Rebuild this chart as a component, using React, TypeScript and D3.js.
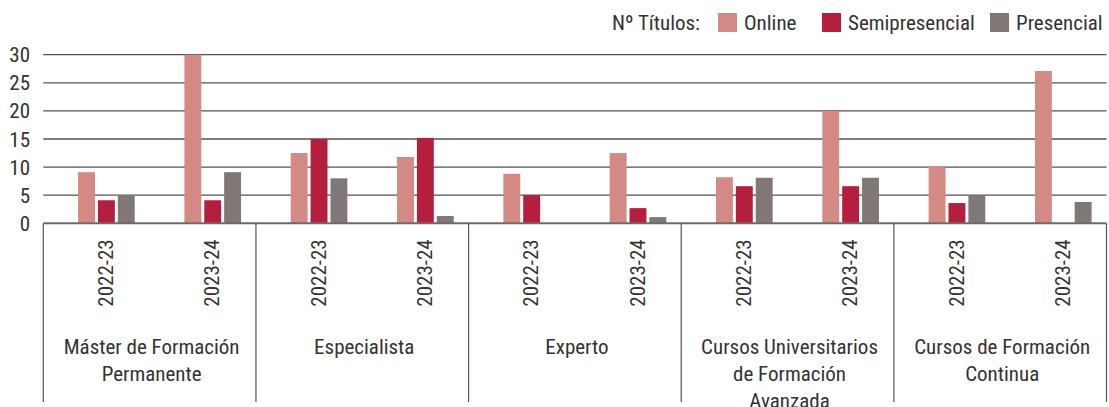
import React from "react";
import * as d3 from "d3";

const categories = [
  "Máster de Formación Permanente",
  "Especialista",
  "Experto",
  "Cursos Universitarios de Formación Avanzada",
  "Cursos de Formación Continua",
];
const years = ["2022-23", "2023-24"];
const seriesNames = ["Online", "Semipresencial", "Presencial"];
const seriesColors = ["#d48a84", "#b51e3d", "#7f7877"];
const legendTitle = "Nº Títulos:";

// one entry per category, [2022-23, 2023-24]
const online = [[9.1, 30], [12.5, 11.8], [8.8, 12.5], [8.2, 20], [10.2, 27.1]];
const semipresencial = [[4.1, 4.1], [15, 15.2], [5, 2.7], [6.6, 6.6], [3.6, 0]];
const presencial = [[5, 9.1], [8, 1.3], [0, 1.1], [8.1, 8.1], [5, 3.8]];

const yTicks = [0, 5, 10, 15, 20, 25, 30];

const FONT = "Roboto, 'Roboto Condensed', sans-serif";

function App() {
  const width = 1109;
  const height = 407;
  const left = 43.3;
  const right = 1106.5;
  const top = 54.7;
  const bottom = 223.3;

  const seriesData = [online, semipresencial, presencial];

  const xGroup = d3.scaleBand().domain(categories).range([left, right]);
  const xYear = d3.scaleBand().domain(years).range([0, xGroup.bandwidth()]);
  // first slot is the empty "Nº Títulos" entry of the legend
  const slots = ["", ...seriesNames];
  const xSeries = d3
    .scaleBand()
    .domain(slots)
    .range([0, xYear.bandwidth()])
    .paddingInner(0.15)
    .paddingOuter(0.75);
  const y = d3.scaleLinear().domain([0, 30]).range([bottom, top]);

  const bars = [];
  categories.forEach((c, ci) => {
    years.forEach((yr, yi) => {
      seriesNames.forEach((s, si) => {
        const v = seriesData[si][ci][yi];
        if (!v) return;
        const x0 = xGroup(c) + xYear(yr) + xSeries(s);
        bars.push(
          <rect
            key={c + yr + s}
            x={x0}
            y={y(v)}
            width={xSeries.bandwidth()}
            height={bottom - y(v)}
            fill={seriesColors[si]}
          />
        );
      });
    });
  });

  const textStyle = { fontFamily: FONT, fontStretch: "condensed" };

  // legend layout (right aligned)
  const legendItems = [
    { name: "Online", x: 718 },
    { name: "Semipresencial", x: 822 },
    { name: "Presencial", x: 990 },
  ];

  const catLines = (c) => {
    if (c === "Máster de Formación Permanente") return ["Máster de Formación", "Permanente"];
    if (c === "Cursos Universitarios de Formación Avanzada")
      return ["Cursos Universitarios", "de Formación", "Avanzada"];
    if (c === "Cursos de Formación Continua") return ["Cursos de Formación", "Continua"];
    return [c];
  };

  return (
    <div style={{ position: "absolute", left: 0, top: 0 }}>
      <svg width={width} height={height} style={{ display: "block", background: "#fff" }}>
        {/* legend */}
        <text x={700} y={30} textAnchor="end" fontSize={21} fill="#333" style={textStyle}>
          {legendTitle}
        </text>
        {legendItems.map((l, i) => (
          <g key={l.name}>
            <rect x={l.x} y={13} width={19} height={19} fill={seriesColors[i]} />
            <text x={l.x + 26} y={30} fontSize={21} fill="#333" style={textStyle}>
              {l.name}
            </text>
          </g>
        ))}

        {/* grid */}
        {yTicks.map((t) => (
          <g key={t}>
            {t > 0 && (
              <line x1={left} x2={right} y1={y(t)} y2={y(t)} stroke="#555252" strokeWidth={1.3} />
            )}
            <text
              x={30}
              y={y(t)}
              dy="0.36em"
              textAnchor="end"
              fontSize={21}
              fill="#333"
              style={textStyle}
            >
              {t}
            </text>
          </g>
        ))}

        {bars}

        {/* axis line */}
        <line x1={left} x2={right} y1={bottom} y2={bottom} stroke="#6e6a6a" strokeWidth={2} />

        {/* group dividers */}
        {[...categories.map((c) => xGroup(c)), right].map((x, i) => (
          <line key={i} x1={x} x2={x} y1={bottom} y2={402} stroke="#555" strokeWidth={1.2} />
        ))}

        {/* year labels */}
        {categories.map((c) =>
          years.map((yr) => {
            const cx =
              xGroup(c) +
              xYear(yr) +
              (xSeries(seriesNames[0]) + xSeries(seriesNames[2]) + xSeries.bandwidth()) / 2 -
              1;
            return (
              <text
                key={c + yr}
                transform={`translate(${cx},273) rotate(-90)`}
                textAnchor="middle"
                dy="0.36em"
                fontSize={21}
                fill="#333"
                style={textStyle}
              >
                {yr}
              </text>
            );
          })
        )}

        {/* category labels */}
        {categories.map((c) => (
          <text
            key={c}
            x={xGroup(c) + xGroup.bandwidth() / 2 + 2}
            y={354}
            textAnchor="middle"
            fontSize={21}
            fill="#333"
            style={textStyle}
          >
            {catLines(c).map((line, i) => (
              <tspan key={i} x={xGroup(c) + xGroup.bandwidth() / 2 + 2} dy={i === 0 ? 0 : 27}>
                {line}
              </tspan>
            ))}
          </text>
        ))}
      </svg>
    </div>
  );
}

export default App;
